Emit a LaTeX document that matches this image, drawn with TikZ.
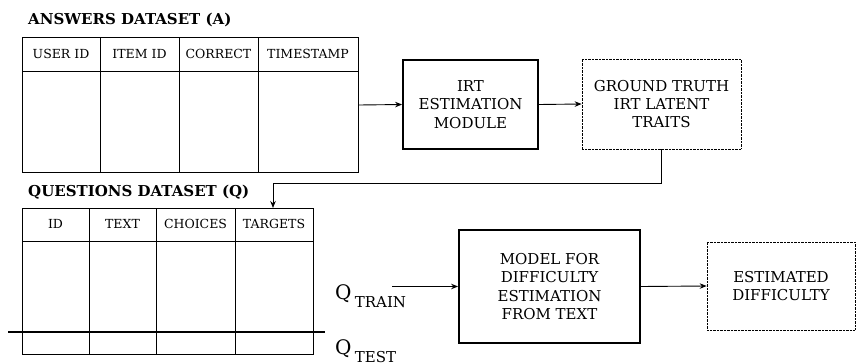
\documentclass[tikz,border=0pt]{standalone}
\usepackage{fontspec}
\setmainfont{DejaVuSerif}[Extension=.ttf,BoldFont=DejaVuSerif-Bold]
\usetikzlibrary{arrows.meta}
\begin{document}
\begin{tikzpicture}[x=1pt,y=-1pt,
  cell/.style={font=\fontsize{12.5}{14}\selectfont,inner sep=0pt,anchor=base},
  head/.style={font=\bfseries\fontsize{15}{17}\selectfont,anchor=base west,inner sep=0pt},
  tbl/.style={draw,line width=1pt,inner sep=0pt,anchor=north west},
  grid/.style={line width=1pt},
  proc/.style={draw,line width=1.8pt,align=center,inner sep=0pt,font=\fontsize{15}{18.3}\selectfont},
  res/.style={draw,line width=0.7pt,dash pattern=on 0.7pt off 0.7pt,align=center,inner sep=0pt,font=\fontsize{15}{18.3}\selectfont},
  arr/.style={-{Stealth[length=7pt,width=5.5pt]},line width=0.9pt},
  qlab/.style={anchor=base west,inner sep=0pt,font=\fontsize{20}{20}\selectfont}
]
\useasboundingbox (0,0) rectangle (857,364);

% ---------- Answers dataset ----------
\node[head] (hA) at (28,24) {ANSWERS DATASET (A)};
\node[tbl,minimum width=336pt,minimum height=135pt] (A) at (22,37) {};
\draw[grid] (22,71) -- (358,71);
\draw[grid] (100,37) -- (100,172);
\draw[grid] (179,37) -- (179,172);
\draw[grid] (258,37) -- (258,172);
\node[cell] (a1) at (61,58) {USER ID};
\node[cell] (a2) at (139.5,58) {ITEM ID};
\node[cell] (a3) at (218.5,58) {CORRECT};
\node[cell] (a4) at (308,58) {TIMESTAMP};

% ---------- IRT module and ground truth ----------
\node[proc,minimum width=135pt,minimum height=89pt] (irt) at (470.5,104.5) {IRT\\ESTIMATION\\MODULE};
\node[res,minimum width=159pt,minimum height=90pt] (gt) at (661.5,104) {GROUND TRUTH\\IRT LATENT\\TRAITS};

\draw[arr] (A.east) -- (irt.west);
\draw[arr] (irt.east) -- (gt.west);

% ---------- Questions dataset ----------
\node[head] (hQ) at (28,196.5) {QUESTIONS DATASET (Q)};
\node[tbl,minimum width=291pt,minimum height=146pt] (Q) at (22,208) {};
\draw[grid] (22,241) -- (313,241);
\draw[grid] (89,208) -- (89,354);
\draw[grid] (156,208) -- (156,354);
\draw[grid] (235,208) -- (235,354);
\draw[line width=2pt] (8,332) -- (325,332);
\node[cell] (q1) at (55.5,228.5) {ID};
\node[cell] (q2) at (122.5,228.5) {TEXT};
\node[cell] (q3) at (195.5,228.5) {CHOICES};
\node[cell] (q4) at (274,228.5) {TARGETS};

\coordinate (qin) at (273,208);
\coordinate (bend) at (0,183);
\draw[arr] (gt.south) -- (gt.south |- bend) -| (qin);

% ---------- Train / test ----------
\node[qlab] (qtrain) at (335,299) {Q\,\raisebox{-8pt}{\fontsize{15}{15}\selectfont TRAIN}};
\node[qlab] (qtest) at (335,354) {Q\,\raisebox{-8pt}{\fontsize{15}{15}\selectfont TEST}};

\node[proc,minimum width=181pt,minimum height=113pt] (model) at (549.5,286.5) {MODEL FOR\\DIFFICULTY\\ESTIMATION\\FROM TEXT};
\node[res,minimum width=148pt,minimum height=88pt] (est) at (781,286) {ESTIMATED\\DIFFICULTY};

\coordinate (trs) at (392,286.5);
\draw[arr] (trs) -- (model.west);
\draw[arr] (model.east) -- (est.west);
\end{tikzpicture}
\end{document}
